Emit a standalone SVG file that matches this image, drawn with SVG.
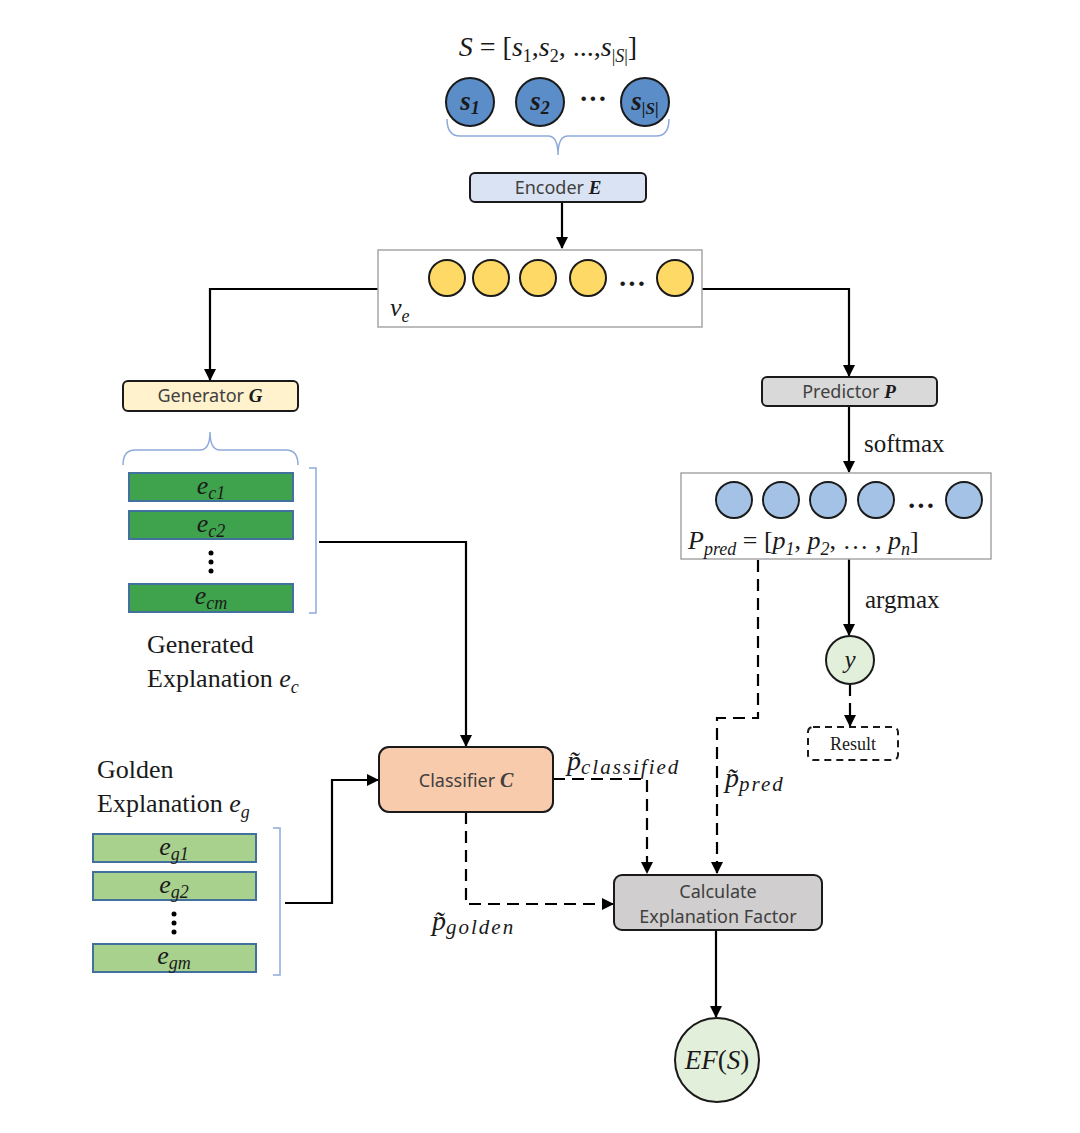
<svg xmlns="http://www.w3.org/2000/svg" width="1080" height="1133" viewBox="0 0 1080 1133">
<style>
.box{stroke:#1a1a1a;stroke-width:2}
.lbl{font-family:"Noto Sans","Liberation Sans",sans-serif;font-size:18px;fill:#404040;text-anchor:middle}
.math{font-family:"Liberation Serif",serif;fill:#1a1a1a}
.it{font-style:italic}
.con{fill:none;stroke:#000;stroke-width:2.2}
.dash{stroke-dasharray:12 7}
.brace{fill:none;stroke:#8eaadb;stroke-width:1.5}
.frame{fill:#fff;stroke:#a6a6a6;stroke-width:1.5}
.bar{stroke:#41719c;stroke-width:2}
</style>
<defs>
<marker id="ah" markerWidth="12" markerHeight="12" refX="11" refY="6" orient="auto" markerUnits="userSpaceOnUse">
<path d="M0,0 L12,6 L0,12 z" fill="#000"/>
</marker>
</defs>
<rect width="1080" height="1133" fill="#fff"/>

<g id="connectors">
<path class="con" d="M562,202 V248" marker-end="url(#ah)"/>
<path class="con" d="M378,289 H210 V380" marker-end="url(#ah)"/>
<path class="con" d="M702,289 H849 V376" marker-end="url(#ah)"/>
<path class="con" d="M849,406 V472" marker-end="url(#ah)"/>
<path class="con" d="M849,559 V635" marker-end="url(#ah)"/>
<path class="con dash" d="M850,684 V726" marker-end="url(#ah)"/>
<path class="con" d="M319,542 H466 V746" marker-end="url(#ah)"/>
<path class="con" d="M285,903 H332 V780 H378" marker-end="url(#ah)"/>
<path class="con dash" d="M553,779 H647 V873" marker-end="url(#ah)"/>
<path class="con dash" d="M466,812 V904 H613" marker-end="url(#ah)"/>
<path class="con dash" d="M758,560 V718 H717 V873" marker-end="url(#ah)"/>
<path class="con" d="M716,930 V1017" marker-end="url(#ah)"/>
</g>

<g id="input-sequence">
<text class="math" x="548" y="56" font-size="28" text-anchor="middle"><tspan class="it">S</tspan> = [<tspan class="it">s</tspan><tspan font-size="18" dy="6">1</tspan><tspan dy="-6">,</tspan><tspan class="it">s</tspan><tspan font-size="18" dy="6">2</tspan><tspan dy="-6">, ...,</tspan><tspan class="it">s</tspan><tspan font-size="18" dy="6">|<tspan class="it">S</tspan>|</tspan><tspan dy="-6">]</tspan></text>
<circle cx="470" cy="102" r="24" fill="#5b8dc9" stroke="#1a1a1a" stroke-width="2"/>
<circle cx="540" cy="102" r="24" fill="#5b8dc9" stroke="#1a1a1a" stroke-width="2"/>
<circle cx="645" cy="102" r="24" fill="#5b8dc9" stroke="#1a1a1a" stroke-width="2"/>
<text class="math it" x="470" y="110" font-size="27" font-weight="bold" text-anchor="middle">s<tspan font-size="18" dy="4">1</tspan></text>
<text class="math it" x="540" y="110" font-size="27" font-weight="bold" text-anchor="middle">s<tspan font-size="18" dy="4">2</tspan></text>
<text class="math it" x="645" y="110" font-size="27" font-weight="bold" text-anchor="middle">s<tspan font-size="17" dy="4">|S|</tspan></text>
<text class="math" x="593" y="108" font-size="28" font-weight="bold" text-anchor="middle">···</text>
<path class="brace" d="M447,119 Q447,136 460,136 H548 Q558,136 558,155 Q558,136 568,136 H656 Q669,136 669,119"/>
</g>

<g id="encoder">
<rect class="box" x="470" y="173" width="176" height="29" rx="5" fill="#dae3f3"/>
<text class="lbl" x="558" y="194">Encoder <tspan font-family="Liberation Serif,serif" font-style="italic" font-weight="bold" fill="#1a1a1a" font-size="19">E</tspan></text>
</g>

<g id="ve">
<rect class="frame" x="378" y="250" width="324" height="77"/>
<circle cx="447" cy="278" r="18" fill="#ffd966" stroke="#1a1a1a" stroke-width="2"/>
<circle cx="491" cy="278" r="18" fill="#ffd966" stroke="#1a1a1a" stroke-width="2"/>
<circle cx="538" cy="278" r="18" fill="#ffd966" stroke="#1a1a1a" stroke-width="2"/>
<circle cx="588" cy="278" r="18" fill="#ffd966" stroke="#1a1a1a" stroke-width="2"/>
<circle cx="675" cy="278" r="18" fill="#ffd966" stroke="#1a1a1a" stroke-width="2"/>
<text class="math" x="632" y="293" font-size="28" font-weight="bold" text-anchor="middle">···</text>
<text class="math it" x="390" y="316" font-size="26">v<tspan font-size="18" dy="6">e</tspan></text>
</g>

<g id="generator">
<rect class="box" x="123" y="381" width="175" height="30" rx="5" fill="#fff2cc"/>
<text class="lbl" x="210" y="402">Generator <tspan font-family="Liberation Serif,serif" font-style="italic" font-weight="bold" fill="#1a1a1a" font-size="19">G</tspan></text>
</g>

<g id="generated-explanation">
<path class="brace" d="M123,465 Q123,450 135,450 H200 Q210,450 210,432 Q210,450 220,450 H286 Q298,450 298,465"/>
<rect class="bar" x="129" y="473" width="164" height="28" fill="#3fa34d"/>
<rect class="bar" x="129" y="511" width="164" height="28" fill="#3fa34d"/>
<rect class="bar" x="129" y="584" width="164" height="28" fill="#3fa34d"/>
<text class="math it" x="211" y="494" font-size="26" text-anchor="middle">e<tspan font-size="18" dy="5">c1</tspan></text>
<text class="math it" x="211" y="532" font-size="26" text-anchor="middle">e<tspan font-size="18" dy="5">c2</tspan></text>
<text class="math it" x="211" y="604" font-size="26" text-anchor="middle">e<tspan font-size="18" dy="5">cm</tspan></text>
<circle cx="211" cy="553" r="2.5" fill="#000"/>
<circle cx="211" cy="562" r="2.5" fill="#000"/>
<circle cx="211" cy="571" r="2.5" fill="#000"/>
<path class="brace" d="M309,468 H316 V613 H309"/>
<text class="math" x="147" y="653" font-size="26">Generated</text>
<text class="math" x="147" y="687" font-size="26">Explanation <tspan class="it">e</tspan><tspan class="it" font-size="18" dy="6">c</tspan></text>
</g>

<g id="predictor">
<rect class="box" x="762" y="377" width="175" height="29" rx="5" fill="#d9d9d9"/>
<text class="lbl" x="849" y="398">Predictor <tspan font-family="Liberation Serif,serif" font-style="italic" font-weight="bold" fill="#1a1a1a" font-size="19">P</tspan></text>
<text class="math" x="864" y="452" font-size="25">softmax</text>
</g>

<g id="ppred">
<rect class="frame" x="681" y="473" width="310" height="86"/>
<circle cx="734" cy="500" r="18" fill="#a4c2e6" stroke="#1a1a1a" stroke-width="2"/>
<circle cx="781" cy="500" r="18" fill="#a4c2e6" stroke="#1a1a1a" stroke-width="2"/>
<circle cx="828" cy="500" r="18" fill="#a4c2e6" stroke="#1a1a1a" stroke-width="2"/>
<circle cx="876" cy="500" r="18" fill="#a4c2e6" stroke="#1a1a1a" stroke-width="2"/>
<circle cx="964" cy="500" r="18" fill="#a4c2e6" stroke="#1a1a1a" stroke-width="2"/>
<text class="math" x="921" y="515" font-size="28" font-weight="bold" text-anchor="middle">···</text>
<text class="math" x="688" y="549" font-size="26"><tspan class="it">P</tspan><tspan class="it" font-size="18" dy="6">pred</tspan><tspan dy="-6"> = [</tspan><tspan class="it">p</tspan><tspan class="it" font-size="18" dy="6">1</tspan><tspan dy="-6">, </tspan><tspan class="it">p</tspan><tspan class="it" font-size="18" dy="6">2</tspan><tspan dy="-6">, … , </tspan><tspan class="it">p</tspan><tspan class="it" font-size="18" dy="6">n</tspan><tspan dy="-6">]</tspan></text>
</g>

<g id="y">
<text class="math" x="865" y="608" font-size="25">argmax</text>
<circle cx="850" cy="660" r="24" fill="#e2efda" stroke="#1a1a1a" stroke-width="2"/>
<text class="math it" x="850" y="668" font-size="25" text-anchor="middle">y</text>
</g>

<g id="result">
<rect x="808" y="727" width="90" height="33" rx="5" fill="#fff" stroke="#1a1a1a" stroke-width="2" stroke-dasharray="7 5"/>
<text class="math" x="853" y="750" font-size="18" text-anchor="middle">Result</text>
</g>

<g id="classifier">
<rect class="box" x="379" y="747" width="174" height="65" rx="10" fill="#f8cbad"/>
<text class="lbl" x="466" y="787">Classifier <tspan font-family="Liberation Serif,serif" font-style="italic" font-weight="bold" fill="#404040" font-size="20">C</tspan></text>
</g>

<g id="golden-explanation">
<text class="math" x="97" y="778" font-size="26">Golden</text>
<text class="math" x="97" y="812" font-size="26">Explanation <tspan class="it">e</tspan><tspan class="it" font-size="18" dy="6">g</tspan></text>
<rect class="bar" x="93" y="834" width="163" height="28" fill="#a9d18e"/>
<rect class="bar" x="93" y="872" width="163" height="28" fill="#a9d18e"/>
<rect class="bar" x="93" y="944" width="163" height="28" fill="#a9d18e"/>
<text class="math it" x="174" y="855" font-size="26" text-anchor="middle">e<tspan font-size="18" dy="5">g1</tspan></text>
<text class="math it" x="174" y="893" font-size="26" text-anchor="middle">e<tspan font-size="18" dy="5">g2</tspan></text>
<text class="math it" x="174" y="964" font-size="26" text-anchor="middle">e<tspan font-size="18" dy="5">gm</tspan></text>
<circle cx="174" cy="914" r="2.5" fill="#000"/>
<circle cx="174" cy="923" r="2.5" fill="#000"/>
<circle cx="174" cy="932" r="2.5" fill="#000"/>
<path class="brace" d="M273,828 H280 V975 H273"/>
</g>

<g id="labels">
<text class="math it" x="567" y="770" font-size="28">p̃<tspan font-size="21" dy="4" letter-spacing="2">classified</tspan></text>
<text class="math it" x="725" y="787" font-size="28">p̃<tspan font-size="21" dy="4" letter-spacing="2">pred</tspan></text>
<text class="math it" x="432" y="930" font-size="28">p̃<tspan font-size="21" dy="4" letter-spacing="2">golden</tspan></text>
</g>

<g id="calculate">
<rect class="box" x="614" y="875" width="208" height="55" rx="8" fill="#d0cece"/>
<text class="lbl" x="718" y="898">Calculate</text>
<text class="lbl" x="718" y="923">Explanation Factor</text>
</g>

<g id="ef">
<circle cx="717" cy="1060" r="42" fill="#e2efda" stroke="#1a1a1a" stroke-width="2"/>
<text class="math" x="717" y="1069" font-size="27" text-anchor="middle"><tspan class="it">EF</tspan>(<tspan class="it">S</tspan>)</text>
</g>
</svg>
